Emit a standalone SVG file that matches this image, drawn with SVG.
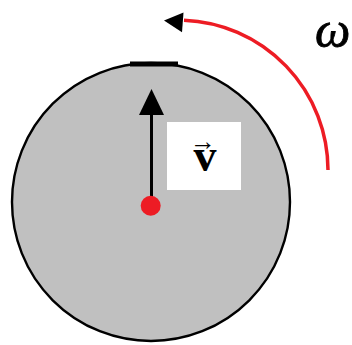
<svg xmlns="http://www.w3.org/2000/svg" width="352" height="345" viewBox="0 0 352 345">
<style>
.disk{fill:#c0c0c0;stroke:#000;stroke-width:2.4}
.blk{fill:#000}
.lbl{font-family:"Liberation Serif","DejaVu Serif",serif;fill:#000}
</style>
<rect width="352" height="345" fill="#fff"/>
<g id="disk">
<circle class="disk" cx="151" cy="202" r="139"/>
<line x1="130" y1="64" x2="178" y2="64" stroke="#000" stroke-width="5"/>
</g>
<g id="connectors">
<line x1="151.5" y1="205" x2="151.5" y2="113" stroke="#000" stroke-width="3"/>
<polygon class="blk" points="151.5,89 139,115 164,115"/>
<path d="M 328 170 A 150 150 0 0 0 184 20.2" fill="none" stroke="#ed1c24" stroke-width="3.5"/>
<polygon class="blk" points="164,20.5 183.5,12.5 182,32.3"/>
</g>
<g id="label-v">
<rect x="167" y="122" width="74" height="68" fill="#fff"/>
<text class="lbl" text-anchor="middle"><tspan x="205" y="170.5" font-size="46" font-weight="bold">v</tspan><tspan x="203" y="150" font-size="26">→</tspan></text>
</g>
<g id="center">
<circle cx="150.7" cy="205.7" r="10" fill="#ed1c24"/>
</g>
<g id="label-omega">
<text class="lbl" x="315" y="47" font-size="50" font-style="italic" stroke="#000" stroke-width="0.8">ω</text>
</g>
</svg>
